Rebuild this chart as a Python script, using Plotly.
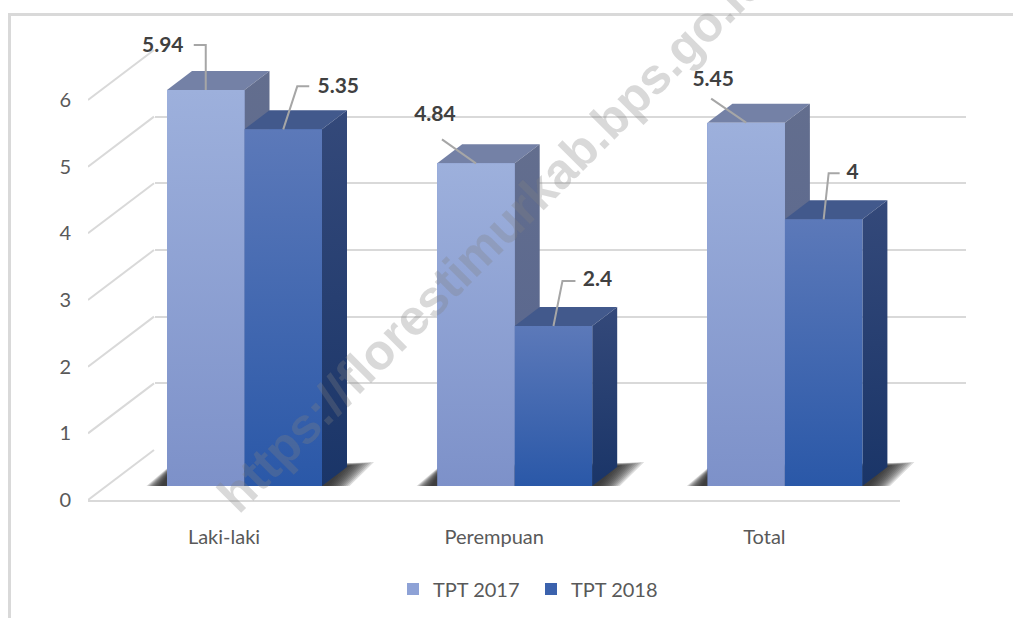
import plotly.graph_objects as go

categories = ["Laki-laki", "Perempuan", "Total"]
series_names = ["TPT 2017", "TPT 2018"]
tpt_2017 = [5.94, 4.84, 5.45]
tpt_2018 = [5.35, 2.4, 4]
label_2017 = ["5.94", "4.84", "5.45"]
label_2018 = ["5.35", "2.4", "4"]
y_ticks = [0, 1, 2, 3, 4, 5, 6]

# ---------- layout geometry (pixels) ----------
W, H = 1013, 618
GROUP_PX, UNIT_PX = 270.2, 66.67
BAR_PX = 77.5
DEPTH_PX = (25, 19)      # bar depth
WALL_PX = (66, 50)       # wall depth from the front floor edge
group_x = [0, 1, 2]
FONT = "Lato"


def fx(a, b):
    return [a / W, b / W]


def fy(top, bottom):
    return [(H - bottom) / H, (H - top) / H]


def xu(px):
    return px / GROUP_PX


def yu(px):
    return px / UNIT_PX


# bar plane: group 0 joint at x=244.5, value 0 at y=486
BAR_L, BAR_R = 100, 930
BAR_X0, BAR_Y0 = 244.5, 486
bar_xrange = [(BAR_L - BAR_X0) / GROUP_PX, (BAR_R - BAR_X0) / GROUP_PX]
w = BAR_PX / GROUP_PX
dxd, dyd = xu(DEPTH_PX[0]), yu(DEPTH_PX[1])

# front (tick) plane: labels centred at 224, value 0 at y=499
TICK_L, TICK_R, TICK_X0, TICK_Y0 = 88, 900, 224, 500
tick_xrange = [(TICK_L - TICK_X0) / GROUP_PX, (TICK_R - TICK_X0) / GROUP_PX]
AXIS_TOP = 20      # upper end of the overlay axes, room for labels and diagonals

GRID = "#d9d9d9"
fig = go.Figure()

# ---------- wall gridlines (native, first subplot = lowest) ----------
fig.add_trace(go.Scatter(x=[0] * len(y_ticks), y=y_ticks, mode="none", showlegend=False,
                         hoverinfo="skip", xaxis="x", yaxis="y"))

# ---------- side-wall diagonals on the front plane ----------
for v in y_ticks:
    g0 = tick_xrange[0]
    fig.add_trace(go.Scatter(x=[g0, g0 + xu(WALL_PX[0])], y=[v, v + yu(WALL_PX[1])], mode="lines",
                             line=dict(color=GRID, width=2), showlegend=False, hoverinfo="skip",
                             cliponaxis=False, xaxis="x2", yaxis="y2"))

# ---------- real bars (base layer, also drive the legend) ----------
styles = [
    dict(front=("#7d91c9", "#9db0dc"), side=("#55648f", "#636e8e"), top="#7481a6", swatch="#8ea2d6"),
    dict(front=("#2a58a8", "#5c79b9"), side=("#1a3568", "#34497a"), top="#42598c", swatch="#3b62ad"),
]
for name, vals, off, st in zip(series_names, (tpt_2017, tpt_2018), (-w, 0), styles):
    fig.add_trace(go.Bar(name=name, x=group_x, y=vals, width=w, offset=off,
                         marker=dict(color=st["swatch"], line=dict(width=0)),
                         cliponaxis=False, hoverinfo="x+y", xaxis="x3", yaxis="y3"))


def poly(xs, ys, color=None, grad=None):
    kw = dict(x=xs + xs[:1], y=ys + ys[:1], mode="lines", fill="toself", line=dict(width=0),
              showlegend=False, hoverinfo="skip", xaxis="x3", yaxis="y3", cliponaxis=False)
    if grad:
        kw["fillgradient"] = dict(type="vertical", colorscale=[[0, grad[0]], [1, grad[1]]])
        kw["fillcolor"] = grad[0]
    else:
        kw["fillcolor"] = color
    fig.add_trace(go.Scatter(**kw))


# ---------- floor shadows: stacked translucent layers give the blur ----------
N_SHADOW = 12
for g in group_x:
    L, R = g - w, g + w
    for i in range(N_SHADOW):
        t = i / (N_SHADOW - 1)
        xs = [L - xu(27 - 20 * t), L + xu(4), R + xu(30), R + xu(52 - 30 * t), R + xu(22 - 18 * t)]
        ys = [-yu(5.5 - 3 * t), yu(21 - 5 * t), yu(23 - 3 * t), yu(24 - 5 * t), -yu(5.5 - 3 * t)]
        poly(xs, ys, color="rgba(40,40,40,0.16)")

# ---------- 3D bar faces ----------
for g, a, b in zip(group_x, tpt_2017, tpt_2018):
    for v, x0, st in ((a, g - w, styles[0]), (b, g, styles[1])):
        x1 = x0 + w
        poly([x0, x1, x1 + dxd, x0 + dxd], [v, v, v + dyd, v + dyd], color=st["top"])
        poly([x1, x1 + dxd, x1 + dxd, x1], [v, v + dyd, dyd, 0], grad=st["side"])
        poly([x0, x1, x1, x0], [0, 0, v, v], grad=st["front"])

# ---------- leader lines and data labels ----------
# pixel offsets from the centre of each bar's top edge: knee, end, label
leaders_2017 = [((0, -45), (-12, -45), (-43, -43)),
                ((-34, -24), (-34, -24), (-41, -48)),
                ((-35, -24), (-35, -24), (-33, -42))]
leaders_2018 = [((14, -43), (26, -43), (55, -42)),
                ((9, -45), (22, -45), (44, -45)),
                ((5, -46), (16, -46), (29, -46))]
for vals, labels, leaders, off in ((tpt_2017, label_2017, leaders_2017, -w / 2),
                                   (tpt_2018, label_2018, leaders_2018, w / 2)):
    for g, v, text, (k, e, l) in zip(group_x, vals, labels, leaders):
        cx = g + off
        fig.add_trace(go.Scatter(x=[cx, cx + xu(k[0]), cx + xu(e[0])],
                                 y=[v, v - yu(k[1]), v - yu(e[1])], mode="lines",
                                 line=dict(color="#a6a6a6", width=2), showlegend=False,
                                 hoverinfo="skip", cliponaxis=False, xaxis="x3", yaxis="y3"))
        fig.add_trace(go.Scatter(x=[cx + xu(l[0])], y=[v - yu(l[1])], mode="text", text=[text],
                                 textposition="middle center",
                                 textfont=dict(family=FONT, size=21, color="#404040", weight="bold"),
                                 showlegend=False, hoverinfo="skip", cliponaxis=False,
                                 xaxis="x3", yaxis="y3"))

hidden = dict(visible=False, fixedrange=True)
tick_span = (TICK_Y0 - AXIS_TOP) / UNIT_PX
bar_span = (BAR_Y0 - AXIS_TOP) / UNIT_PX
fig.update_layout(
    width=W, height=H, margin=dict(l=0, r=0, t=0, b=0, autoexpand=False),
    paper_bgcolor="white", plot_bgcolor="rgba(0,0,0,0)", barmode="overlay", bargap=0,
    font=dict(family=FONT, color="#595959", size=20),
    xaxis=dict(domain=fx(155, 966), range=[0, 1], showticklabels=False, showgrid=False,
               zeroline=False, ticks="", fixedrange=True, anchor="y"),
    yaxis=dict(domain=fy(50, 450), range=[0, 6], tickvals=y_ticks, showticklabels=False,
               showgrid=True, gridcolor=GRID, gridwidth=2, zeroline=False, ticks="",
               fixedrange=True, anchor="x"),
    xaxis2=dict(domain=fx(TICK_L, TICK_R), range=tick_xrange, tickvals=group_x, ticktext=categories,
                showgrid=False, zeroline=False, showline=True, linecolor=GRID, linewidth=2,
                ticks="", ticklabelstandoff=18, tickfont=dict(size=20, color="#595959"),
                fixedrange=True, anchor="y2"),
    yaxis2=dict(domain=fy(AXIS_TOP, TICK_Y0), range=[0, tick_span], tickvals=y_ticks, showgrid=False,
                zeroline=False, ticks="", ticklabelstandoff=16, tickfont=dict(size=20, color="#595959"),
                fixedrange=True, anchor="x2"),
    xaxis3=dict(domain=fx(BAR_L, BAR_R), range=bar_xrange, anchor="y3", **hidden),
    yaxis3=dict(domain=fy(AXIS_TOP, BAR_Y0), range=[0, bar_span], anchor="x3", **hidden),
    legend=dict(orientation="h", x=393 / W, xanchor="left", y=(H - 589) / H, yanchor="middle",
                font=dict(size=20, color="#595959"), bgcolor="rgba(0,0,0,0)", traceorder="normal",
                entrywidth=93, entrywidthmode="pixels"),
    annotations=[dict(text="https://florestimurkab.bps.go.id", textangle=-45, x=492 / W, y=(H - 238) / H,
                      xref="paper", yref="paper", showarrow=False, xanchor="center", yanchor="middle",
                      font=dict(family="Liberation Sans", size=50, color="rgba(130,130,130,0.3)", weight="bold"))],
    shapes=[dict(type="line", xref="paper", yref="paper", x0=8 / W, x1=1, y0=(H - 14.5) / H, y1=(H - 14.5) / H,
                 line=dict(color="#d9d9d9", width=3)),
            dict(type="line", xref="paper", yref="paper", x0=9.5 / W, x1=9.5 / W, y0=0, y1=(H - 14.5) / H,
                 line=dict(color="#d9d9d9", width=3))],
)
fig.write_html("out.html", config=dict(displayModeBar=False),
               post_script="document.body.style.margin='0';document.body.style.overflow='hidden';")
